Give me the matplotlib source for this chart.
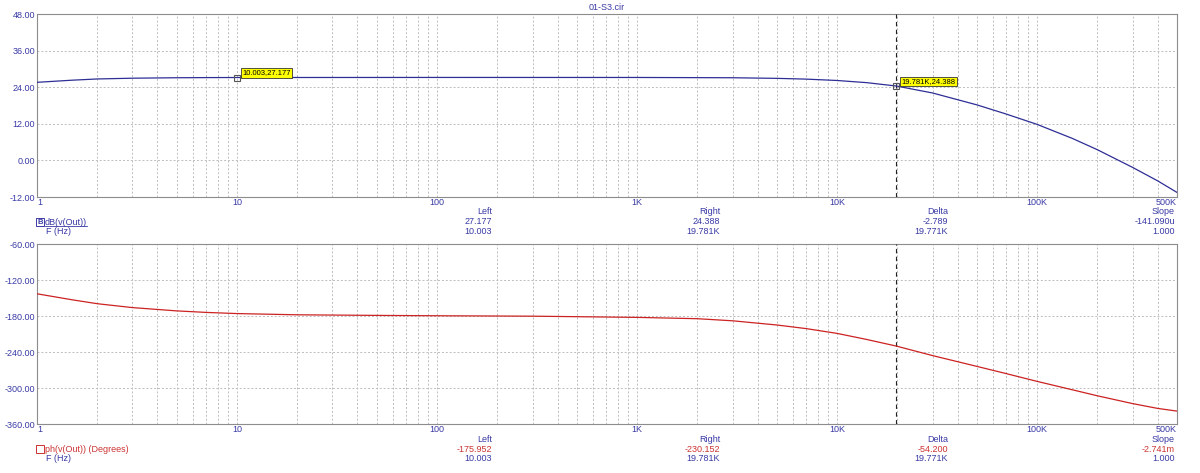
import matplotlib
matplotlib.use("Agg")
import matplotlib.pyplot as plt
from matplotlib.patches import Rectangle
from matplotlib.lines import Line2D
import numpy as np

plt.rcParams['font.family'] = ['Liberation Sans', 'DejaVu Sans']

# values
freq_mag = [1, 1.5, 2, 3, 5, 7, 10, 100, 1000, 3000, 5000, 7000, 10000, 14000,
            19781, 30000, 50000, 70000, 100000, 150000, 200000, 300000, 400000, 500000]
mag_db = [25.6, 26.3, 26.7, 26.95, 27.1, 27.15, 27.177, 27.2, 27.19, 27.1, 26.9, 26.65, 26.2, 25.5,
          24.388, 22.1, 18.2, 15.2, 11.8, 7.2, 3.5, -2.3, -6.7, -10.5]

freq_ph = [1, 1.5, 2, 3, 5, 7, 10, 20, 50, 100, 300, 1000, 2000, 3000, 5000, 7000, 10000, 14000,
           19781, 30000, 50000, 70000, 100000, 150000, 200000, 300000, 400000, 500000]
phase_deg = [-143, -153, -159.5, -166, -171.5, -174, -175.95, -178, -179, -179.6, -180.3, -182.3,
             -184.5, -188, -195, -201, -209, -219, -230.15, -246, -264, -276, -289, -303, -313,
             -326, -334, -338.5]

xtick_vals = [1, 10, 100, 1e3, 1e4, 1e5, 5e5]
xtick_labels = ['1', '10', '100', '1K', '10K', '100K', '500K']
mag_ticks = [-12, 0, 12, 24, 36, 48]
ph_ticks = [-360, -300, -240, -180, -120, -60]

left_cursor = (10.003, 27.177)
right_cursor = (19781, 24.388)

blue = '#3a3aa6'
red = '#cc3333'
curve_blue = '#2e2e96'
curve_red = '#cc2222'
frame = '#8c8c8c'
grid_c = '#bdbdbd'

W, H = 1200, 473
fig = plt.figure(figsize=(12, 4.73), dpi=100)


def fx(px):
    return px / W


def fy(py):
    return 1 - py / H


ax1 = fig.add_axes([fx(37), fy(197), fx(1177 - 37), (197 - 14) / H])
ax2 = fig.add_axes([fx(37), fy(424), fx(1177 - 37), (424 - 244) / H])

minor = [m * 10 ** d for d in range(0, 6) for m in range(2, 10) if m * 10 ** d < 5e5]

for ax, yt in ((ax1, mag_ticks), (ax2, ph_ticks)):
    ax.set_xscale('log')
    ax.set_xlim(1, 5e5)
    ax.set_ylim(yt[0], yt[-1])
    ax.set_yticks(yt)
    ax.set_yticklabels(['%.2f' % v for v in yt])
    ax.set_xticks(xtick_vals)
    ax.set_xticklabels(xtick_labels)
    ax.set_xticks(minor, minor=True)
    ax.tick_params(axis='both', which='both', length=0, colors=blue, labelsize=6.5, pad=1.5)
    ax.tick_params(axis='x', which='major', pad=1)
    labels = ax.get_xticklabels()
    labels[0].set_ha('left')
    labels[-1].set_ha('right')
    ax.grid(True, which='both', axis='x', color=grid_c, ls=(0, (2, 2)), lw=0.7)
    ax.grid(True, which='major', axis='y', color=grid_c, ls=(0, (2, 2)), lw=0.7)
    for s in ax.spines.values():
        s.set_color(frame)
        s.set_linewidth(0.8)
    ax.axvline(right_cursor[0], color='#222222', ls=(0, (4, 3)), lw=0.8, zorder=3)

ax1.plot(freq_mag, mag_db, color=curve_blue, lw=0.9, zorder=4)
ax2.plot(freq_ph, phase_deg, color=curve_red, lw=0.9, zorder=4)

# cursor markers with yellow tags
for (cx, cy) in (left_cursor, right_cursor):
    ax1.plot([cx], [cy], marker='s', ms=5, mfc='none', mec='#555555', mew=0.8, zorder=5)
    tag = ('%.3f' % cx if cx < 1000 else '%.3fK' % (cx / 1000)) + ',%.3f' % cy
    ax1.annotate(tag, (cx, cy), xytext=(5, 1), textcoords='offset pixels',
                 fontsize=5.5, ha='left', va='bottom', color='black', zorder=6,
                 bbox=dict(boxstyle='square,pad=0.15', fc='#ffff00', ec='#333333', lw=0.6))

fig.text(fx(607), fy(7), '01-S3.cir', color=blue, fontsize=6.5, ha='center', va='center')

# readout tables under each panel
cols_x = [492, 720, 948, 1175]
heads = ['Left', 'Right', 'Delta', 'Slope']
mag_vals = ['27.177', '24.388', '-2.789', '-141.090u']
mag_f = ['10.003', '19.781K', '19.771K', '1.000']
ph_vals = ['-175.952', '-230.152', '-54.200', '-2.741m']
ph_f = ['10.003', '19.781K', '19.771K', '1.000']

for x, h, v, f in zip(cols_x, heads, mag_vals, mag_f):
    fig.text(fx(x), fy(212), h, color=blue, fontsize=6.5, ha='right', va='center')
    fig.text(fx(x), fy(221.5), v, color=blue, fontsize=6.5, ha='right', va='center')
    fig.text(fx(x), fy(231), f, color=blue, fontsize=6.5, ha='right', va='center')

for x, h, v, f in zip(cols_x, heads, ph_vals, ph_f):
    fig.text(fx(x), fy(439.5), h, color=blue, fontsize=6.5, ha='right', va='center')
    fig.text(fx(x), fy(449), v, color=red, fontsize=6.5, ha='right', va='center')
    fig.text(fx(x), fy(458.5), f, color=blue, fontsize=6.5, ha='right', va='center')

# trace names
fig.text(fx(38), fy(222), 'B', color=blue, fontsize=5.5, ha='left', va='center', fontweight='bold')
fig.add_artist(Rectangle((fx(36), fy(226)), fx(8), 8 / H, fill=False, ec=blue, lw=0.7))
t = fig.text(fx(45), fy(222), 'dB(v(Out))', color=blue, fontsize=6.5, ha='left', va='center')
fig.canvas.draw()
bb = t.get_window_extent().transformed(fig.transFigure.inverted())
fig.add_artist(Line2D([bb.x0, bb.x1], [bb.y0 + 0.002, bb.y0 + 0.002], color=blue, lw=0.6))
fig.text(fx(46), fy(231.5), 'F (Hz)', color=blue, fontsize=6.5, ha='left', va='center')

fig.add_artist(Rectangle((fx(36), fy(453)), fx(8), 8 / H, fill=False, ec=red, lw=0.7))
fig.text(fx(45), fy(449), 'ph(v(Out)) (Degrees)', color=red, fontsize=6.5, ha='left', va='center')
fig.text(fx(46), fy(458.5), 'F (Hz)', color=blue, fontsize=6.5, ha='left', va='center')

fig.savefig('out.png', dpi=100, facecolor='white')
